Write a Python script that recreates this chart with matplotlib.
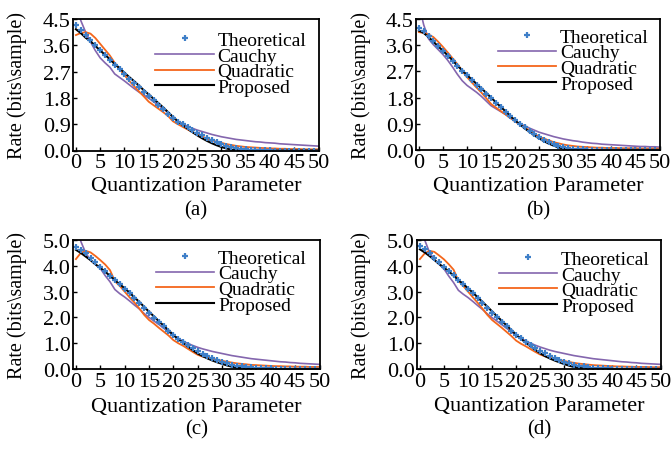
import matplotlib
matplotlib.use("Agg")
import matplotlib.pyplot as plt
import numpy as np

plt.rcParams['font.family'] = ['Liberation Serif', 'DejaVu Serif']

qp = list(range(51))

# panel (a)
theo_a = [4.30, 4.12, 3.95, 3.78, 3.60, 3.43, 3.26, 3.10, 2.93, 2.78,
          2.62, 2.46, 2.31, 2.16, 2.01, 1.86, 1.72, 1.57, 1.42, 1.26,
          1.10, 0.99, 0.89, 0.79, 0.70, 0.61, 0.52, 0.43, 0.35, 0.28,
          0.22, 0.16, 0.12, 0.08, 0.06, 0.04, 0.03, 0.02, 0.01, 0.01,
          0.01, 0.00, 0.00, 0.00, 0.00, 0.00, 0.00, 0.00, 0.00, 0.00, 0.00]
cauchy_a = [5.00, 4.45, 4.05, 3.72, 3.42, 3.17, 3.00, 2.85, 2.62, 2.50,
            2.38, 2.25, 2.12, 2.00, 1.90, 1.79, 1.67, 1.55, 1.43, 1.30,
            1.15, 1.00, 0.91, 0.83, 0.76, 0.70, 0.65, 0.60, 0.55, 0.51,
            0.47, 0.44, 0.41, 0.38, 0.36, 0.34, 0.32, 0.30, 0.29, 0.27,
            0.26, 0.25, 0.23, 0.22, 0.21, 0.20, 0.19, 0.18, 0.17, 0.16, 0.15]
quad_a = [3.95, 4.02, 4.05, 4.00, 3.85, 3.65, 3.45, 3.25, 3.00, 2.78,
          2.58, 2.38, 2.20, 2.02, 1.85, 1.67, 1.55, 1.43, 1.31, 1.18,
          1.00, 0.90, 0.81, 0.72, 0.63, 0.55, 0.48, 0.41, 0.35, 0.30,
          0.26, 0.22, 0.19, 0.16, 0.14, 0.12, 0.11, 0.10, 0.09, 0.08,
          0.07, 0.07, 0.06, 0.06, 0.05, 0.05, 0.05, 0.04, 0.04, 0.04, 0.04]
prop_a = [4.15, 4.02, 3.86, 3.74, 3.58, 3.42, 3.28, 3.12, 2.96, 2.82,
          2.66, 2.51, 2.37, 2.22, 2.06, 1.92, 1.77, 1.62, 1.47, 1.31,
          1.15, 1.00, 0.87, 0.75, 0.63, 0.52, 0.42, 0.33, 0.25, 0.18,
          0.12, 0.07, 0.03, 0.01, 0.00, 0.00, 0.00, 0.00, 0.00, 0.00,
          0.00, 0.00, 0.00, 0.00, 0.00, 0.00, 0.00, 0.00, 0.00, 0.00, 0.00]

# panel (b)
theo_b = [4.20, 4.08, 3.90, 3.73, 3.56, 3.40, 3.23, 3.06, 2.89, 2.73,
          2.56, 2.40, 2.24, 2.08, 1.93, 1.77, 1.62, 1.47, 1.32, 1.17,
          1.02, 0.90, 0.78, 0.66, 0.54, 0.43, 0.34, 0.26, 0.19, 0.13,
          0.09, 0.06, 0.04, 0.03, 0.02, 0.01, 0.01, 0.00, 0.00, 0.00,
          0.00, 0.00, 0.00, 0.00, 0.00, 0.00, 0.00, 0.00, 0.00, 0.00, 0.00]
cauchy_b = [5.00, 4.30, 3.82, 3.62, 3.45, 3.28, 3.08, 2.85, 2.60, 2.38,
            2.22, 2.10, 1.98, 1.84, 1.68, 1.52, 1.42, 1.32, 1.22, 1.10,
            0.99, 0.90, 0.83, 0.75, 0.68, 0.61, 0.56, 0.51, 0.46, 0.42,
            0.38, 0.35, 0.32, 0.30, 0.27, 0.25, 0.23, 0.22, 0.20, 0.19,
            0.18, 0.17, 0.16, 0.15, 0.14, 0.13, 0.12, 0.12, 0.11, 0.11, 0.10]
quad_b = [4.05, 4.02, 3.97, 3.88, 3.72, 3.54, 3.35, 3.15, 2.95, 2.72,
          2.50, 2.32, 2.14, 1.97, 1.78, 1.58, 1.46, 1.34, 1.22, 1.10,
          0.98, 0.87, 0.77, 0.67, 0.56, 0.46, 0.39, 0.33, 0.27, 0.23,
          0.19, 0.16, 0.14, 0.12, 0.11, 0.10, 0.09, 0.08, 0.08, 0.07,
          0.07, 0.07, 0.06, 0.06, 0.06, 0.06, 0.05, 0.05, 0.05, 0.05, 0.05]
prop_b = [4.10, 4.02, 3.88, 3.72, 3.56, 3.41, 3.25, 3.08, 2.90, 2.74,
          2.57, 2.42, 2.27, 2.12, 1.96, 1.80, 1.64, 1.48, 1.33, 1.17,
          1.01, 0.88, 0.74, 0.62, 0.50, 0.40, 0.30, 0.22, 0.15, 0.09,
          0.05, 0.02, 0.00, 0.00, 0.00, 0.00, 0.00, 0.00, 0.00, 0.00,
          0.00, 0.00, 0.00, 0.00, 0.00, 0.00, 0.00, 0.00, 0.00, 0.00, 0.00]

# panel (c)
theo_c = [4.74, 4.62, 4.48, 4.30, 4.13, 3.96, 3.80, 3.62, 3.45, 3.28,
          3.12, 2.93, 2.74, 2.55, 2.35, 2.16, 1.98, 1.82, 1.65, 1.48,
          1.32, 1.18, 1.05, 0.93, 0.82, 0.71, 0.60, 0.51, 0.42, 0.35,
          0.28, 0.22, 0.17, 0.13, 0.10, 0.08, 0.06, 0.04, 0.03, 0.02,
          0.02, 0.01, 0.01, 0.00, 0.00, 0.00, 0.00, 0.00, 0.00, 0.00, 0.00]
cauchy_c = [5.60, 4.95, 4.50, 4.22, 4.05, 3.90, 3.62, 3.38, 3.08, 2.92,
            2.79, 2.64, 2.48, 2.33, 2.15, 2.00, 1.86, 1.73, 1.58, 1.44,
            1.30, 1.18, 1.08, 0.99, 0.91, 0.84, 0.78, 0.73, 0.68, 0.64,
            0.60, 0.56, 0.52, 0.49, 0.46, 0.43, 0.40, 0.38, 0.36, 0.34,
            0.32, 0.30, 0.28, 0.27, 0.25, 0.24, 0.22, 0.21, 0.20, 0.19, 0.18]
quad_c = [4.26, 4.50, 4.58, 4.52, 4.38, 4.22, 4.05, 3.83, 3.40, 3.22,
          3.00, 2.78, 2.58, 2.35, 2.10, 1.90, 1.76, 1.60, 1.45, 1.30,
          1.12, 1.00, 0.90, 0.78, 0.66, 0.55, 0.48, 0.44, 0.40, 0.36,
          0.32, 0.28, 0.25, 0.22, 0.20, 0.18, 0.16, 0.15, 0.14, 0.13,
          0.12, 0.11, 0.11, 0.10, 0.10, 0.09, 0.09, 0.09, 0.08, 0.08, 0.08]
prop_c = [4.62, 4.50, 4.36, 4.22, 4.06, 3.92, 3.77, 3.61, 3.44, 3.28,
          3.13, 2.96, 2.78, 2.60, 2.41, 2.22, 2.04, 1.86, 1.68, 1.50,
          1.32, 1.16, 1.01, 0.87, 0.73, 0.60, 0.50, 0.41, 0.33, 0.26,
          0.20, 0.14, 0.09, 0.05, 0.03, 0.01, 0.00, 0.00, 0.00, 0.00,
          0.00, 0.00, 0.00, 0.00, 0.00, 0.00, 0.00, 0.00, 0.00, 0.00, 0.00]

# panel (d)
theo_d = [4.76, 4.64, 4.48, 4.31, 4.14, 3.97, 3.80, 3.63, 3.46, 3.29,
          3.12, 2.94, 2.75, 2.56, 2.37, 2.18, 2.00, 1.83, 1.66, 1.49,
          1.33, 1.19, 1.06, 0.94, 0.82, 0.71, 0.61, 0.51, 0.43, 0.35,
          0.28, 0.22, 0.17, 0.13, 0.10, 0.07, 0.05, 0.04, 0.03, 0.02,
          0.01, 0.01, 0.01, 0.00, 0.00, 0.00, 0.00, 0.00, 0.00, 0.00, 0.00]
cauchy_d = [5.60, 5.00, 4.52, 4.24, 4.06, 3.88, 3.60, 3.35, 3.05, 2.90,
            2.77, 2.62, 2.46, 2.31, 2.14, 1.99, 1.86, 1.72, 1.58, 1.44,
            1.31, 1.19, 1.09, 1.00, 0.92, 0.85, 0.79, 0.73, 0.68, 0.64,
            0.60, 0.56, 0.52, 0.49, 0.46, 0.43, 0.40, 0.38, 0.36, 0.34,
            0.32, 0.30, 0.28, 0.27, 0.25, 0.24, 0.22, 0.21, 0.20, 0.19, 0.18]
quad_d = [4.26, 4.48, 4.58, 4.54, 4.40, 4.25, 4.06, 3.85, 3.42, 3.22,
          3.00, 2.78, 2.57, 2.34, 2.10, 1.90, 1.75, 1.60, 1.44, 1.28,
          1.10, 0.98, 0.88, 0.77, 0.66, 0.56, 0.49, 0.44, 0.39, 0.35,
          0.31, 0.27, 0.24, 0.21, 0.19, 0.17, 0.15, 0.14, 0.13, 0.12,
          0.11, 0.10, 0.10, 0.09, 0.09, 0.08, 0.08, 0.08, 0.07, 0.07, 0.07]
prop_d = [4.64, 4.52, 4.38, 4.23, 4.07, 3.93, 3.78, 3.62, 3.45, 3.29,
          3.13, 2.96, 2.78, 2.60, 2.42, 2.23, 2.05, 1.87, 1.69, 1.51,
          1.33, 1.17, 1.02, 0.88, 0.74, 0.61, 0.50, 0.41, 0.33, 0.26,
          0.19, 0.13, 0.08, 0.05, 0.02, 0.01, 0.00, 0.00, 0.00, 0.00,
          0.00, 0.00, 0.00, 0.00, 0.00, 0.00, 0.00, 0.00, 0.00, 0.00, 0.00]

yticks_ab = [0.0, 0.9, 1.8, 2.7, 3.6, 4.5]
yticks_cd = [0.0, 1.0, 2.0, 3.0, 4.0, 5.0]
xticks = [0, 5, 10, 15, 20, 25, 30, 35, 40, 45, 50]

blue = '#3f7fc8'
purple = '#8466ae'
orange = '#f4661b'

W, H = 671, 452
fig = plt.figure(figsize=(W / 100, H / 100), dpi=100)

# pixel boxes: left, right, top, bottom
panels = [
    ('(a)', (73, 319, 20, 151.5), theo_a, cauchy_a, quad_a, prop_a, yticks_ab, 4.5, 0.905, 187, 211, 17),
    ('(b)', (416, 660, 20, 151), theo_b, cauchy_b, quad_b, prop_b, yticks_ab, 4.5, 0.93, 187, 211, 361),
    ('(c)', (73, 320, 241, 370), theo_c, cauchy_c, quad_c, prop_c, yticks_cd, 5.0, 0.93, 408, 430, 17),
    ('(d)', (417, 661, 241, 370), theo_d, cauchy_d, quad_d, prop_d, yticks_cd, 5.0, 0.92, 407, 430, 361),
]

for tag, (l, r, t, b), theo, cau, quad, prop, yt, ymax, legy, xly, tagy, yly in panels:
    ax = fig.add_axes([l / W, 1 - b / H, (r - l) / W, (b - t) / H])
    ax.plot(qp, cau, color=purple, lw=1.2, label='Cauchy')
    ax.plot(qp, quad, color=orange, lw=1.3, label='Quadratic')
    ax.plot(qp, prop, color='black', lw=1.5, label='Proposed')
    ax.plot(qp, theo, ls='none', marker='+', ms=5, mew=1.6, color=blue,
            label='Theoretical')
    ax.set_xlim(-0.6, 50.1)
    ax.set_ylim(0, ymax)
    ax.set_xticks(xticks)
    ax.set_yticks(yt)
    ax.set_yticklabels([f'{v:.1f}' for v in yt])
    ax.tick_params(direction='in', length=3, width=1, labelsize=16, pad=1.5)
    ax.tick_params(axis='x', pad=2)
    for s in ax.spines.values():
        s.set_linewidth(1.3)
    ax.set_xlabel('Quantization Parameter', fontsize=16, va='center')
    ax.xaxis.set_label_coords(((l + r) / 2) / W, 1 - xly / H, transform=fig.transFigure)
    ax.set_ylabel('Rate (bits\\sample)', fontsize=14.5, va='center')
    ax.yaxis.set_label_coords(yly / W, 1 - ((t + b) / 2) / H, transform=fig.transFigure)

    handles, labels = ax.get_legend_handles_labels()
    order = [3, 0, 1, 2]
    ax.legend([handles[i] for i in order], [labels[i] for i in order],
              loc='upper left', bbox_to_anchor=(0.335, legy), frameon=False,
              fontsize=14, handlelength=3.0, handletextpad=0.2,
              labelspacing=-0.1, borderpad=0, borderaxespad=0, numpoints=1)
    fig.text(((l + r) / 2) / W, 1 - tagy / H, tag, fontsize=15,
             ha='center', va='center')

fig.savefig('out.png', dpi=100)
